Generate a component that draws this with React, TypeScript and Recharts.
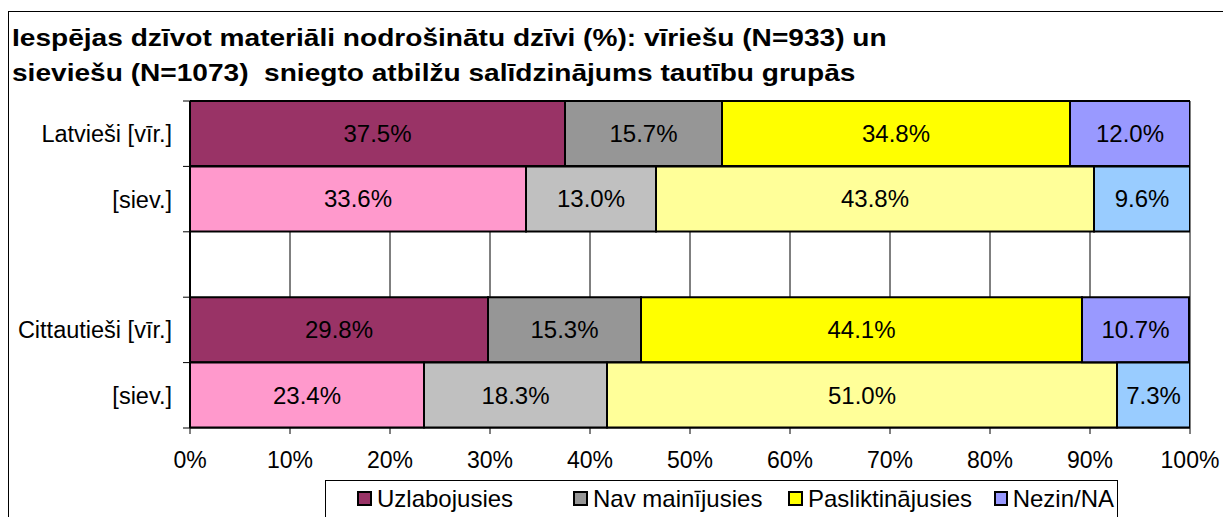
import React from 'react';
import { BarChart, Bar, XAxis, YAxis, CartesianGrid, Cell, LabelList } from 'recharts';

const categories = ['Latvieši [vīr.]', '[siev.]', '', 'Cittautieši [vīr.]', '[siev.]'];
const sexes = ['m', 'f', null, 'm', 'f'];
const seriesNames = ['Uzlabojusies', 'Nav mainījusies', 'Pasliktinājusies', 'Nezin/NA'];
const uzlabojusies = [37.5, 33.6, null, 29.8, 23.4];
const navMainijusies = [15.7, 13.0, null, 15.3, 18.3];
const pasliktinajusies = [34.8, 43.8, null, 44.1, 51.0];
const nezin = [12.0, 9.6, null, 10.7, 7.3];
const xTicks = [0, 10, 20, 30, 40, 50, 60, 70, 80, 90, 100];
const titleLines = [
  'Iespējas dzīvot materiāli nodrošinātu dzīvi (%): vīriešu (N=933) un',
  'sieviešu (N=1073)  sniegto atbilžu salīdzinājums tautību grupās',
];

const maleColors = ['#993366', '#969696', '#FFFF00', '#9999FF'];
const femaleColors = ['#FF99CC', '#C0C0C0', '#FFFF99', '#99CCFF'];
const seriesKeys = ['u', 'n', 'p', 'z'];
const legendSlots = [216, 215, 206, 120];

const data = categories.map((c, i) => ({
  id: i,
  u: uzlabojusies[i],
  n: navMainijusies[i],
  p: pasliktinajusies[i],
  z: nezin[i],
}));

const FONT = '"Liberation Sans", Arial, sans-serif';
const FS_X = 23;
const FS_Y = 23.5;
const FS_LABEL = 24;
const FS_LEGEND = 24;
const W = 1223;
const H = 517;
const MARGIN = { top: 101, right: 33, left: 10, bottom: 49 };
const Y_WIDTH = 180;
const X_HEIGHT = 40;
const AXIS_X = MARGIN.left + Y_WIDTH;
const BAND = (H - MARGIN.top - MARGIN.bottom - X_HEIGHT) / categories.length;

const YTick = (props: any) => {
  const { y, payload, index } = props;
  const label = categories[payload.value] ?? '';
  const last = index === categories.length - 1;
  return (
    <g>
      <line x1={AXIS_X - 7} x2={AXIS_X} y1={y - BAND / 2} y2={y - BAND / 2} stroke="#000" />
      {last && <line x1={AXIS_X - 7} x2={AXIS_X} y1={y + BAND / 2} y2={y + BAND / 2} stroke="#000" />}
      <text x={AXIS_X - 18} y={y} dy="0.36em" textAnchor="end" fill="#000" fontSize={FS_Y} fontFamily={FONT}>
        {label}
      </text>
    </g>
  );
};

const fmt = (v: any) => (v == null ? '' : `${Number(v).toFixed(1)}%`);

export default function App() {
  return (
    <div style={{ position: 'fixed', left: 0, top: 0, width: W, height: H, overflow: 'hidden', background: '#fff', fontFamily: FONT }}>
      <div style={{ position: 'absolute', left: 8, top: 11, width: W, height: H, borderTop: '1px solid #000', borderLeft: '1px solid #000' }} />
      <div
        style={{
          position: 'absolute',
          left: 12,
          top: 20,
          fontSize: 24,
          fontWeight: 'bold',
          lineHeight: '35px',
          color: '#000',
          whiteSpace: 'pre',
          transform: 'scaleX(1.17)',
          transformOrigin: 'left top',
        }}
      >
        {titleLines.map((t, i) => (
          <div key={i}>{t}</div>
        ))}
      </div>
      <div style={{ position: 'absolute', left: 0, top: 0 }}>
        <BarChart width={W} height={H} data={data} layout="vertical" margin={MARGIN} barCategoryGap={0} style={{ fontFamily: FONT }}>
          <CartesianGrid vertical horizontal={false} stroke="#000" strokeWidth={1} />
          <XAxis
            type="number"
            domain={[0, 100]}
            ticks={xTicks}
            tickFormatter={(v: number) => `${v}%`}
            tick={{ fill: '#000', fontSize: FS_X, fontFamily: FONT }}
            tickSize={6}
            tickMargin={18}
            axisLine={{ stroke: '#000' }}
            tickLine={{ stroke: '#000' }}
            height={X_HEIGHT}
            allowDataOverflow
          />
          <YAxis
            type="category"
            dataKey="id"
            width={Y_WIDTH}
            tick={<YTick />}
            tickLine={false}
            axisLine={{ stroke: '#000', strokeWidth: 2 }}
            interval={0}
          />
          {seriesKeys.map((k, si) => (
            <Bar key={k} dataKey={k} name={seriesNames[si]} stackId="s" stroke="#000" strokeWidth={2} isAnimationActive={false}>
              {data.map((d, i) => (
                <Cell key={i} fill={sexes[i] === 'f' ? femaleColors[si] : maleColors[si]} />
              ))}
              <LabelList dataKey={k} position="center" formatter={fmt} fill="#000" stroke="none" fontSize={FS_LABEL} fontFamily={FONT} />
            </Bar>
          ))}
        </BarChart>
      </div>
      <div
        style={{
          position: 'absolute',
          left: 325,
          top: 480,
          width: 793,
          height: 60,
          border: '1px solid #000',
          background: '#fff',
          boxSizing: 'border-box',
          display: 'flex',
          alignItems: 'flex-start',
          paddingLeft: 31,
          paddingTop: 4,
          fontSize: FS_LEGEND,
          color: '#000',
        }}
      >
        {seriesNames.map((n, i) => (
          <div key={n} style={{ width: legendSlots[i], flex: 'none', display: 'flex', alignItems: 'center', gap: 5, whiteSpace: 'nowrap', lineHeight: '27px' }}>
            <span style={{ display: 'inline-block', width: 15, height: 15, boxSizing: 'border-box', border: '2px solid #000', background: maleColors[i] }} />
            <span>{n}</span>
          </div>
        ))}
      </div>
    </div>
  );
}
